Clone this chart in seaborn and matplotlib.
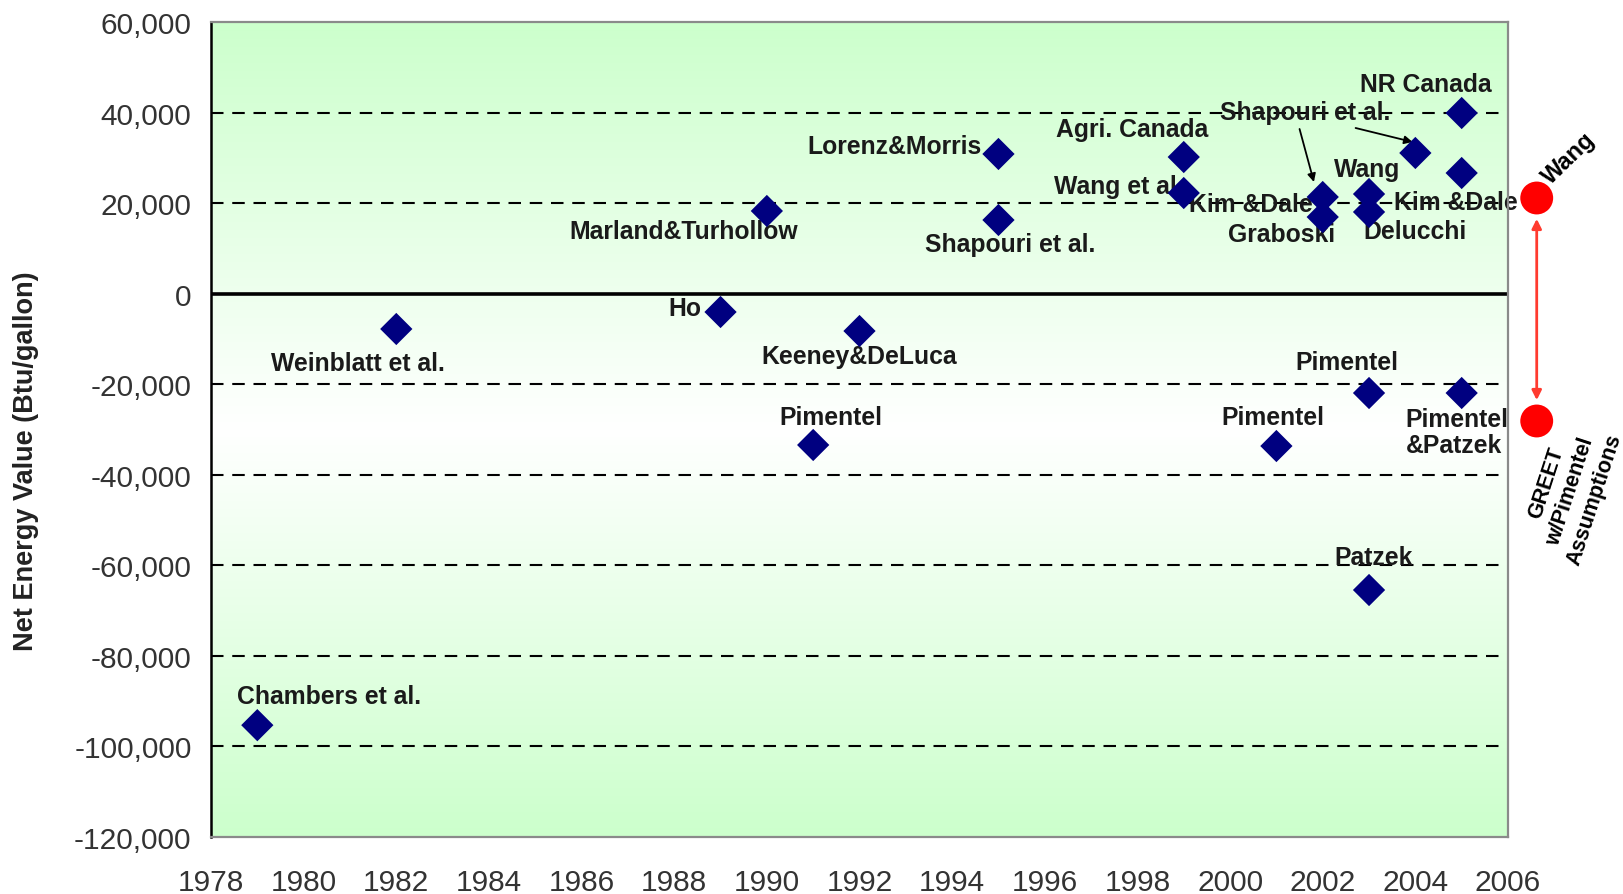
import matplotlib
matplotlib.use("Agg")
import matplotlib.pyplot as plt
import seaborn as sns
import numpy as np
import pandas as pd
from matplotlib.ticker import FuncFormatter

# ---------------- data ----------------
studies = ["Chambers et al.", "Weinblatt et al.", "Ho", "Marland&Turhollow", "Pimentel",
           "Keeney&DeLuca", "Lorenz&Morris", "Shapouri et al.", "Agri. Canada", "Wang et al.",
           "Pimentel", "Kim &Dale", "Graboski", "Wang", "Delucchi", "Pimentel", "Patzek",
           "Shapouri et al.", "NR Canada", "Kim &Dale", "Pimentel\n&Patzek"]
years = [1979, 1982, 1989, 1990, 1991, 1992, 1995, 1995, 1999, 1999,
         2001, 2002, 2002, 2003, 2003, 2003, 2003, 2004, 2005, 2005, 2005]
net_energy = [-95300, -7800, -4050, 18260, -33420, -8250, 30850, 16270, 30180, 22230,
              -33650, 21350, 16930, 22010, 18040, -21940, -65450, 31070, 39900, 26650, -21940]

greet_labels = ["Wang", "GREET\nw/Pimentel\nAssumptions"]
greet_values = [21130, -28120]

x_ticks = list(range(1978, 2007, 2))
y_ticks = list(range(-120000, 60001, 20000))

# ---------------- layout (label anchors, data coords) ----------------
label_pos = [
    (1980.55, -88860, "center"), (1981.18, -15310, "center"), (1988.22, -3170, "center"),
    (1988.20, 13840, "center"), (1991.39, -27240, "center"), (1992.00, -13770, "center"),
    (1992.75, 32610, "center"), (1995.26, 10970, "center"), (1997.88, 36370, "center"),
    (1997.59, 23780, "center"), (2000.92, -27240, "center"), (2000.45, 19800, "center"),
    (2001.11, 13180, "center"), (2002.95, 27530, "center"), (2003.99, 13840, "center"),
    (2002.52, -15090, "center"), (2003.10, -58160, "center"), (2001.62, 40100, "center"),
    (2004.23, 46300, "center"), (2004.87, 20250, "center"), (2003.79, -30550, "left"),
]
GREET_X = 2006.62

sns.set_theme(style="white")
plt.rcParams["font.family"] = ["Liberation Sans", "DejaVu Sans"]

W, H = 1623, 895
fig = plt.figure(figsize=(W / 100, H / 100), dpi=100)
L, R, T, B = 211, 1508, 23, 838
ax = fig.add_axes([L / W, 1 - B / H, (R - L) / W, (B - T) / H])

xmin, xmax, ymin, ymax = 1978, 2006, -120000, 60000

# gradient background: green at edges, white at center
t = np.linspace(0, 1, 512)
d = np.abs(t - 0.5) * 2
green = np.array([204, 255, 204]) / 255.0
white = np.array([1.0, 1.0, 1.0])
grad = white[None, :] * (1 - d[:, None]) + green[None, :] * d[:, None]
ax.imshow(grad[:, None, :], extent=[xmin, xmax, ymin, ymax], origin="lower",
          aspect="auto", zorder=0, interpolation="bilinear")

# gridlines
for v in y_ticks:
    if v in (ymin, ymax):
        continue
    if v == 0:
        ax.axhline(0, color="black", lw=2.6, zorder=1)
    else:
        ax.axhline(v, color="black", lw=1.5, dashes=(6, 4.2), zorder=1)

df = pd.DataFrame({"year": years, "value": net_energy, "study": studies})
sns.scatterplot(data=df, x="year", y="value", marker="D", s=270, color="#000080",
                edgecolor="none", linewidth=0, ax=ax, zorder=4, legend=False)

for (lx, ly, ha), name in zip(label_pos, studies):
    ax.text(lx, ly, name, ha=ha, va="center", fontsize=17.8, fontweight="bold",
            color="#1a1a1a", zorder=3, multialignment="left", linespacing=1.15)

# arrows from Shapouri et al. label
ax.annotate("", xy=(2001.81, 24660), xytext=(2001.50, 36370),
            arrowprops=dict(arrowstyle="-|>", color="black", lw=1.3, mutation_scale=12,
                            shrinkA=0, shrinkB=0), zorder=3)
ax.annotate("", xy=(2003.94, 33500), xytext=(2002.71, 36590),
            arrowprops=dict(arrowstyle="-|>", color="black", lw=1.3, mutation_scale=12,
                            shrinkA=0, shrinkB=0), zorder=3)

# GREET comparison markers (outside axes)
gdf = pd.DataFrame({"x": [GREET_X] * len(greet_values), "value": greet_values})
sns.scatterplot(data=gdf, x="x", y="value", marker="o", s=560, color="#ff0000",
                edgecolor="none", linewidth=0, ax=ax, zorder=6, legend=False)
for coll in ax.collections:
    coll.set_clip_on(False)
ax.annotate("", xy=(GREET_X, greet_values[1]), xytext=(GREET_X, greet_values[0]),
            arrowprops=dict(arrowstyle="<|-|>", color="#ff3b2f", lw=2, mutation_scale=14,
                            shrinkA=15, shrinkB=15),
            annotation_clip=False, zorder=5)
ax.text(2007.32, 29960, greet_labels[0], rotation=44, ha="center", va="center",
        fontsize=17, fontweight="bold", color="black", rotation_mode="anchor", clip_on=False)
ax.text(2007.35, -43500, greet_labels[1], rotation=72, ha="center", va="center",
        fontsize=15.5, fontweight="bold", color="black", rotation_mode="anchor",
        multialignment="center", linespacing=1.3, clip_on=False)

ax.set_xlim(xmin, xmax)
ax.set_ylim(ymin, ymax)
ax.set_xticks(x_ticks)
ax.set_yticks(y_ticks)
ax.yaxis.set_major_formatter(FuncFormatter(lambda v, p: f"{int(v):,}"))
ax.tick_params(axis="y", length=0, pad=14, labelsize=21.5, labelcolor="#333333")
ax.tick_params(axis="x", length=0, pad=22, labelsize=21.5, labelcolor="#333333")
ax.set_xlabel("")
ax.set_ylabel("")

for side in ["top", "right", "bottom"]:
    ax.spines[side].set_color("#8a8a8a")
    ax.spines[side].set_linewidth(1.6)
    ax.spines[side].set_visible(True)
ax.spines["left"].set_color("black")
ax.spines["left"].set_linewidth(1.8)
ax.spines["left"].set_visible(True)
for s in ax.spines.values():
    s.set_zorder(7)

fig.text(26 / W, 1 - 461 / H, "Net Energy Value (Btu/gallon)", rotation=90,
         ha="center", va="center", fontsize=19.5, fontweight="bold", color="#222222")

fig.savefig("out.png", dpi=100)
